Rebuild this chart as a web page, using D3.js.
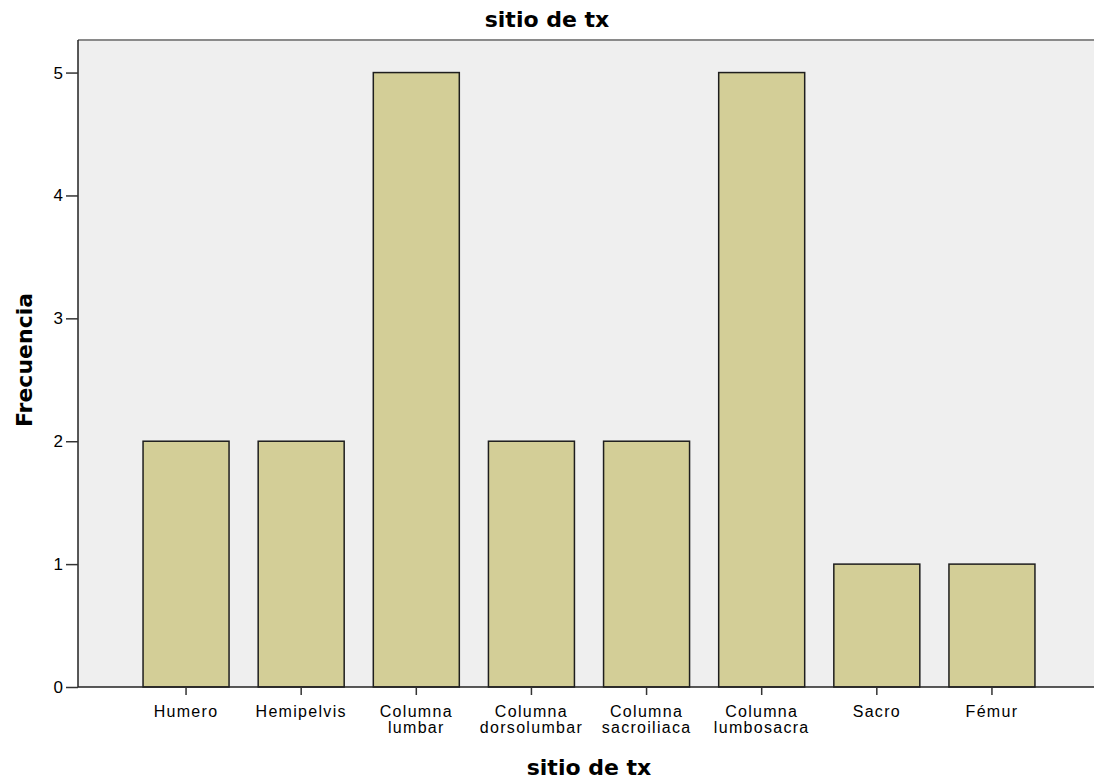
<!DOCTYPE html>
<html>
<head>
<meta charset="utf-8">
<script src="https://d3js.org/d3.v7.min.js"></script>
<style>
  body { margin: 0; background: #fff; }
  text { font-family: "Liberation Sans", Arial, sans-serif; fill: #000; }
  .title { font-family: "DejaVu Sans", Verdana, sans-serif; font-weight: bold; font-size: 22px; }
</style>
</head>
<body>
<div id="chart"></div>
<script>
// data
var categories = ["Humero", "Hemipelvis", "Columna lumbar", "Columna dorsolumbar",
                  "Columna sacroiliaca", "Columna lumbosacra", "Sacro", "Fémur"];
var labelLines = [["Humero"], ["Hemipelvis"], ["Columna", "lumbar"], ["Columna", "dorsolumbar"],
                  ["Columna", "sacroiliaca"], ["Columna", "lumbosacra"], ["Sacro"], ["Fémur"]];
var counts = [2, 2, 5, 2, 2, 5, 1, 1];
var yTicks = [0, 1, 2, 3, 4, 5];

var W = 1094, H = 780;
var margin = { left: 78, right: 1100, top: 40, bottom: 687 };

var svg = d3.select("#chart").append("svg")
    .attr("width", W)
    .attr("height", H);

var x = d3.scaleBand()
    .domain(categories)
    .range([margin.left, margin.right])
    .paddingInner(0.253)
    .paddingOuter(0.565);

var y = d3.scaleLinear()
    .domain([0, 5.265])
    .range([margin.bottom, margin.top]);

// plot background
svg.append("rect")
    .attr("x", margin.left).attr("y", margin.top)
    .attr("width", W - margin.left).attr("height", margin.bottom - margin.top)
    .attr("fill", "#efefef");

// top frame line
svg.append("line")
    .attr("x1", margin.left).attr("x2", W)
    .attr("y1", margin.top).attr("y2", margin.top)
    .attr("stroke", "#8a8a8a").attr("stroke-width", 2);

// bars
svg.selectAll(".bar")
    .data(counts)
    .enter().append("rect")
    .attr("class", "bar")
    .attr("x", function (d, i) { return x(categories[i]); })
    .attr("y", function (d) { return y(d); })
    .attr("width", x.bandwidth())
    .attr("height", function (d) { return y(0) - y(d); })
    .attr("fill", "#d3ce97")
    .attr("stroke", "#1e1e1e")
    .attr("stroke-width", 1.5);

// y axis
var yAxis = svg.append("g")
    .attr("transform", "translate(" + margin.left + ",0)")
    .call(d3.axisLeft(y).tickValues(yTicks).tickSize(12).tickPadding(3).tickFormat(d3.format("d")));
yAxis.select(".domain").attr("stroke", "#222").attr("stroke-width", 1.5)
    .attr("d", "M0," + margin.top + "V" + margin.bottom);
yAxis.selectAll(".tick line").attr("stroke", "#333").attr("stroke-width", 1.5);
yAxis.selectAll(".tick text").style("font-size", "17px").attr("fill", "#000");

// x axis
var xAxis = svg.append("g")
    .attr("transform", "translate(0," + margin.bottom + ")")
    .call(d3.axisBottom(x).tickSize(8).tickFormat(""));
xAxis.select(".domain").attr("stroke", "#222").attr("stroke-width", 1.5)
    .attr("d", "M" + margin.left + ",0H" + W);
xAxis.selectAll(".tick line").attr("stroke", "#333").attr("stroke-width", 1.5);
xAxis.selectAll(".tick").each(function (d, i) {
    var t = d3.select(this).append("text")
        .attr("text-anchor", "middle")
        .attr("y", 30)
        .style("font-size", "16px")
        .style("letter-spacing", "1.3px");
    labelLines[i].forEach(function (line, j) {
        t.append("tspan").attr("x", 0).attr("dy", j === 0 ? 0 : 15.5).text(line);
    });
});

// titles
svg.append("text")
    .attr("class", "title")
    .attr("x", 547).attr("y", 27)
    .attr("text-anchor", "middle")
    .text("sitio de tx");

svg.append("text")
    .attr("class", "title")
    .attr("x", 589).attr("y", 775)
    .attr("text-anchor", "middle")
    .text("sitio de tx");

svg.append("text")
    .attr("class", "title")
    .attr("transform", "translate(32,360) rotate(-90)")
    .attr("text-anchor", "middle")
    .text("Frecuencia");
</script>
</body>
</html>
